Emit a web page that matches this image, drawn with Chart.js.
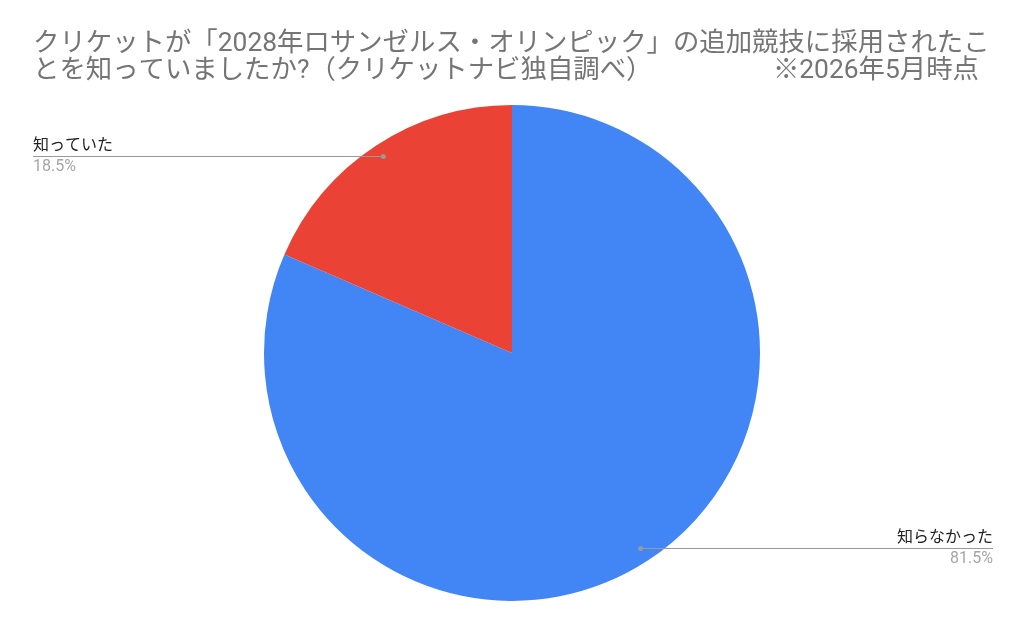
<!DOCTYPE html>
<html lang="ja">
<head>
<meta charset="utf-8">
<script src="https://cdn.jsdelivr.net/npm/chart.js@4/dist/chart.umd.min.js"></script>
<style>
  html, body { margin: 0; padding: 0; background: #fff; }
  #wrap { width: 1024px; height: 633px; position: relative; }
</style>
</head>
<body>
<div id="wrap"><canvas id="pie"></canvas></div>
<script>
(function () {
    'use strict';

    // ====== data ======
    const labels = ['知らなかった', '知っていた'];
    const values = [81.5, 18.5];
    const colors = ['#4285F4', '#EA4335'];
    const titleLines = [
        'クリケットが「2028年ロサンゼルス・オリンピック」の追加競技に採用されたこ',
        'とを知っていましたか?（クリケットナビ独自調べ）'
    ];
    const titleNote = '※2026年5月時点';

    const FONT = 'Roboto, "Noto Sans CJK JP", sans-serif';

    // title drawn by hand so the two lines sit where the original puts them
    const titlePlugin = {
        id: 'sheetTitle',
        afterDraw(chart) {
            const ctx = chart.ctx;
            ctx.save();
            ctx.fillStyle = '#757575';
            ctx.textBaseline = 'middle';
            ctx.textAlign = 'left';
            ctx.font = '25px ' + FONT;
            // fit first line to its width in the original
            const w = ctx.measureText(titleLines[0]).width;
            const size = Math.min(27, 25 * 957 / w);
            ctx.font = size + 'px ' + FONT;
            ctx.fillText(titleLines[0], 33, 44);
            ctx.fillText(titleLines[1], 33, 71);
            ctx.textAlign = 'right';
            ctx.fillText(titleNote, 979, 71);
            ctx.restore();
        }
    };

    // leader lines with label + percent, Sheets style
    const leaderPlugin = {
        id: 'leaders',
        afterDatasetsDraw(chart) {
            const ctx = chart.ctx;
            const meta = chart.getDatasetMeta(0);
            const total = values.reduce((a, b) => a + b, 0);
            meta.data.forEach((arc, i) => {
                const p = arc.getProps(['x', 'y', 'startAngle', 'endAngle', 'outerRadius'], true);
                const mid = (p.startAngle + p.endAngle) / 2;
                const r = p.outerRadius * 0.945;
                const dx = p.x + Math.cos(mid) * r;
                const left = Math.cos(mid) < 0;
                const dy = Math.floor(p.y + Math.sin(mid) * r) + (left ? -0.5 : 0.5);
                const endX = left ? 33 : 993;

                ctx.save();
                ctx.strokeStyle = '#999999';
                ctx.lineWidth = 1;
                ctx.beginPath();
                ctx.moveTo(dx, dy);
                ctx.lineTo(endX, dy);
                ctx.stroke();
                ctx.fillStyle = '#999999';
                ctx.beginPath();
                ctx.arc(dx, dy, 2.5, 0, Math.PI * 2);
                ctx.fill();

                ctx.textAlign = left ? 'left' : 'right';
                ctx.textBaseline = 'middle';
                ctx.fillStyle = '#222222';
                ctx.font = '16px ' + FONT;
                ctx.fillText(labels[i], endX, dy - 11);
                ctx.fillStyle = '#a6a6a6';
                ctx.font = '16px ' + FONT;
                const pct = (values[i] / total * 100).toFixed(1) + '%';
                ctx.fillText(pct, endX, dy + 10);
                ctx.restore();
            });
        }
    };

    new Chart(document.getElementById('pie'), {
        type: 'pie',
        data: {
            labels: labels,
            datasets: [{
                data: values,
                backgroundColor: colors,
                borderWidth: 0
            }]
        },
        options: {
            responsive: true,
            maintainAspectRatio: false,
            animation: false,
            layout: { padding: { top: 105, bottom: 32, left: 0, right: 0 } },
            plugins: {
                legend: { display: false },
                title: { display: false },
                tooltip: { enabled: false }
            }
        },
        plugins: [titlePlugin, leaderPlugin]
    });
})();
</script>
</body>
</html>
